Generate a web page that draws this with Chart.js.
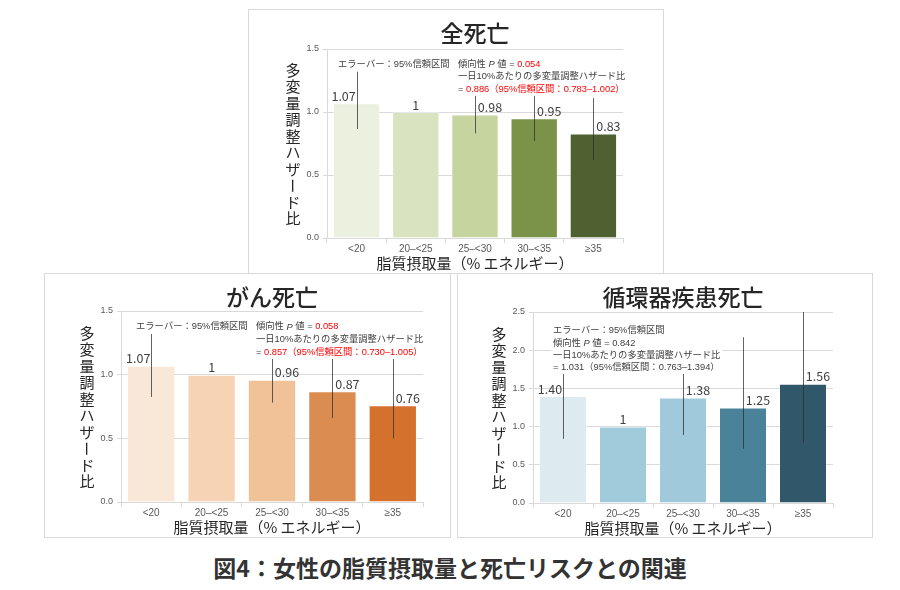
<!DOCTYPE html>
<html>
<head>
<meta charset="utf-8">
<script src="https://cdn.jsdelivr.net/npm/chart.js@4.4.0/dist/chart.umd.min.js"></script>
<style>
    body { margin: 0; background: #fff; width: 900px; height: 590px; position: relative; overflow: hidden; }
    .panel { position: absolute; border: 1px solid #d9d9d9; box-sizing: border-box; background: #fff; }
    .panel canvas { position: absolute; left: 0; top: 0; }
    #caption {
        position: absolute; left: 0; width: 900px; top: 550px; text-align: center;
        font-family: "Noto Sans CJK JP"; font-weight: 700; font-size: 23px; color: #333;
    }
</style>
</head>
<body>

<div class="panel" style="left:248px; top:9px; width:416px; height:265px;">
    <canvas id="all-death" width="416" height="265"></canvas>
</div>
<div class="panel" style="left:44px; top:273px; width:407px; height:265px;">
    <canvas id="cancer-death" width="407" height="265"></canvas>
</div>
<div class="panel" style="left:457px; top:273px; width:416px; height:265px;">
    <canvas id="cvd-death" width="416" height="265"></canvas>
</div>
<div id="caption">図4：女性の脂質摂取量と死亡リスクとの関連</div>

<script>
// data
var categories = ["<20", "20–<25", "25–<30", "30–<35", "≥35"];

var allDeathHR = [1.07, 1, 0.98, 0.95, 0.83];
var allDeathLow = [0.865, null, 0.83, 0.77, 0.62];
var allDeathHigh = [1.32, null, 1.16, 1.17, 1.11];

var cancerDeathHR = [1.07, 1, 0.96, 0.87, 0.76];
var cancerDeathLow = [0.825, null, 0.78, 0.66, 0.50];
var cancerDeathHigh = [1.39, null, 1.18, 1.15, 1.16];

var cvdDeathHR = [1.40, 1, 1.38, 1.25, 1.56];
var cvdDeathLow = [0.84, null, 0.89, 0.71, 0.79];
var cvdDeathHigh = [2.33, null, 2.14, 2.17, 3.08];

var smallMax = 1.5;
var bigMax = 2.5;
var tickStep = 0.5;

var xTitle = "脂質摂取量（% エネルギー）";
var yTitle = "多変量調整ハザード比";
var errNote = "エラーバー：95%信頼区間";

var RED = "#ff0000";
var TXT = "#404040";
var annoFont = '9.3px "Liberation Sans", "Noto Sans CJK JP"';


// draws error bars, notes, value labels, titles
var hrExtras = {
    id: 'hrExtras',
    afterDatasetsDraw: function (chart) {
        var o = chart.options.plugins.hrExtras;
        var ctx = chart.ctx;
        var area = chart.chartArea;
        var ys = chart.scales.y;
        var meta = chart.getDatasetMeta(0);
        var values = chart.data.datasets[0].data;

        // error bars
        ctx.save();
        ctx.beginPath();
        ctx.rect(area.left, area.top, area.right - area.left, area.bottom - area.top);
        ctx.clip();
        ctx.strokeStyle = "rgba(45,45,45,0.75)";
        ctx.lineWidth = 1;
        for (var i = 0; i < o.low.length; i++) {
            if (o.low[i] == null) continue;
            var x = Math.round(meta.data[i].x) + 0.5;
            ctx.beginPath();
            ctx.moveTo(x, ys.getPixelForValue(o.high[i]));
            ctx.lineTo(x, ys.getPixelForValue(o.low[i]));
            ctx.stroke();
        }
        ctx.restore();

        // notes: one white box per text block (lines sharing the same x)
        ctx.save();
        ctx.textBaseline = "middle";
        function partFont(p) { return (p[2] ? 'italic ' : '') + annoFont; }
        var boxes = {};
        o.notes.forEach(function (line) {
            var w = 0;
            line.parts.forEach(function (p) {
                ctx.font = partFont(p);
                w += ctx.measureText(p[0]).width;
            });
            var y0 = ys.getPixelForValue(line.y);
            var b = boxes[line.x] || (boxes[line.x] = { top: y0, bottom: y0, w: 0 });
            b.top = Math.min(b.top, y0);
            b.bottom = Math.max(b.bottom, y0);
            b.w = Math.max(b.w, w);
        });
        ctx.fillStyle = "#fff";
        Object.keys(boxes).forEach(function (k) {
            var b = boxes[k];
            ctx.fillRect(area.left + Number(k) - 2, b.top - 7, b.w + 4, b.bottom - b.top + 14);
        });
        o.notes.forEach(function (line) {
            var cx = area.left + line.x;
            var y0 = ys.getPixelForValue(line.y);
            line.parts.forEach(function (p) {
                ctx.font = partFont(p);
                ctx.fillStyle = p[1];
                ctx.fillText(p[0], cx, y0);
                cx += ctx.measureText(p[0]).width;
            });
        });
        ctx.restore();

        // value labels
        ctx.save();
        ctx.font = '12.5px "Noto Sans CJK JP"';
        ctx.fillStyle = TXT;
        ctx.textAlign = "center";
        ctx.textBaseline = "bottom";
        var shift = [-13, 0, 15, 15, 15];
        for (var j = 0; j < values.length; j++) {
            var v = values[j];
            var label = v === 1 ? "1" : v.toFixed(2);
            ctx.fillText(label, meta.data[j].x + shift[j], ys.getPixelForValue(v) - 1);
        }
        ctx.restore();

        // chart title
        var midX = (area.left + area.right) / 2;
        ctx.save();
        ctx.fillStyle = "#262626";
        ctx.textAlign = "center";
        ctx.textBaseline = "middle";
        ctx.font = '500 23px "Noto Sans CJK JP"';
        ctx.fillText(o.title, midX, 23);

        // x axis title
        ctx.font = '15px "Noto Sans CJK JP"';
        ctx.fillText(xTitle, midX, area.bottom + 25);

        // y axis title, one character per row
        var chars = Array.from(yTitle);
        var step = 16.5;
        var midY = (area.top + area.bottom) / 2 + 1;
        var yx = area.left - 34;
        for (var k = 0; k < chars.length; k++) {
            var cy = midY + (k - (chars.length - 1) / 2) * step;
            if (chars[k] === "ー") {
                ctx.save();
                ctx.translate(yx, cy);
                ctx.rotate(Math.PI / 2);
                ctx.fillText(chars[k], 0, 0);
                ctx.restore();
            } else {
                ctx.fillText(chars[k], yx, cy);
            }
        }
        ctx.restore();
    }
};


function makeChart(id, hr, colors, max, pad, extras) {
    var ctx = document.getElementById(id).getContext("2d");
    return new Chart(ctx, {
        type: "bar",
        data: {
            labels: categories,
            datasets: [{
                data: hr,
                backgroundColor: colors,
                borderColor: "rgba(255,255,255,0.4)",
                borderWidth: 1,
                barPercentage: 0.8,
                categoryPercentage: 1
            }]
        },
        options: {
            responsive: false,
            animation: false,
            layout: { padding: pad },
            plugins: {
                legend: { display: false },
                tooltip: { enabled: false },
                hrExtras: extras
            },
            scales: {
                x: {
                    afterFit: function (s) { s.height = 20; },
                    grid: { drawOnChartArea: false, tickLength: 5, color: "#d9d9d9", offset: true },
                    border: { color: "#d9d9d9" },
                    ticks: { color: "#595959", padding: 0, font: { family: "Liberation Sans", size: 10 } }
                },
                y: {
                    min: 0,
                    max: max,
                    afterFit: function (s) { s.width = 30; },
                    grid: { color: "#d9d9d9", tickLength: 4 },
                    border: { color: "#d9d9d9" },
                    ticks: {
                        stepSize: tickStep,
                        padding: 4,
                        color: "#595959",
                        font: { family: "Liberation Sans", size: 9 },
                        callback: function (v) { return v.toFixed(1); }
                    }
                }
            }
        },
        plugins: [hrExtras]
    });
}


// 全死亡 Chart
makeChart("all-death", allDeathHR,
    ["#EBF0DF", "#D9E3C0", "#C6D49F", "#7B9249", "#4F6131"],
    smallMax,
    { left: 48, right: 42, top: 39, bottom: 17 },
    {
        title: "全死亡",
        low: allDeathLow,
        high: allDeathHigh,
        notes: [
            { x: 11, y: 1.38, parts: [[errNote, TXT]] },
            { x: 131, y: 1.38, parts: [["傾向性 ", TXT], ["P", TXT, true], [" 値 = ", TXT], ["0.054", RED]] },
            { x: 131, y: 1.286, parts: [["一日10%あたりの多変量調整ハザード比", TXT]] },
            { x: 131, y: 1.183, parts: [["= ", TXT], ["0.886（95%信頼区間：0.783–1.002）", RED]] }
        ]
    });


// がん死亡 Chart
makeChart("cancer-death", cancerDeathHR,
    ["#F9E7D8", "#F6D3B5", "#F1C198", "#DB8C51", "#D4712D"],
    smallMax,
    { left: 46, right: 29, top: 37, bottom: 17 },
    {
        title: "がん死亡",
        low: cancerDeathLow,
        high: cancerDeathHigh,
        notes: [
            { x: 15, y: 1.375, parts: [[errNote, TXT]] },
            { x: 135, y: 1.375, parts: [["傾向性 ", TXT], ["P", TXT, true], [" 値 = ", TXT], ["0.058", RED]] },
            { x: 135, y: 1.273, parts: [["一日10%あたりの多変量調整ハザード比", TXT]] },
            { x: 135, y: 1.178, parts: [["= ", TXT], ["0.857（95%信頼区間：0.730–1.005）", RED]] }
        ]
    });


// 循環器疾患死亡 Chart
makeChart("cvd-death", cvdDeathHR,
    ["#DDEBF1", "#9FCBDB", "#A0CADB", "#4A8399", "#30586A"],
    bigMax,
    { left: 45, right: 41, top: 38, bottom: 16 },
    {
        title: "循環器疾患死亡",
        low: cvdDeathLow,
        high: cvdDeathHigh,
        notes: [
            { x: 20, y: 2.264, parts: [[errNote, TXT]] },
            { x: 20, y: 2.094, parts: [["傾向性 ", TXT], ["P", TXT, true], [" 値 = 0.842", TXT]] },
            { x: 20, y: 1.937, parts: [["一日10%あたりの多変量調整ハザード比", TXT]] },
            { x: 20, y: 1.780, parts: [["= 1.031（95%信頼区間：0.763–1.394）", TXT]] }
        ]
    });
</script>
</body>
</html>
